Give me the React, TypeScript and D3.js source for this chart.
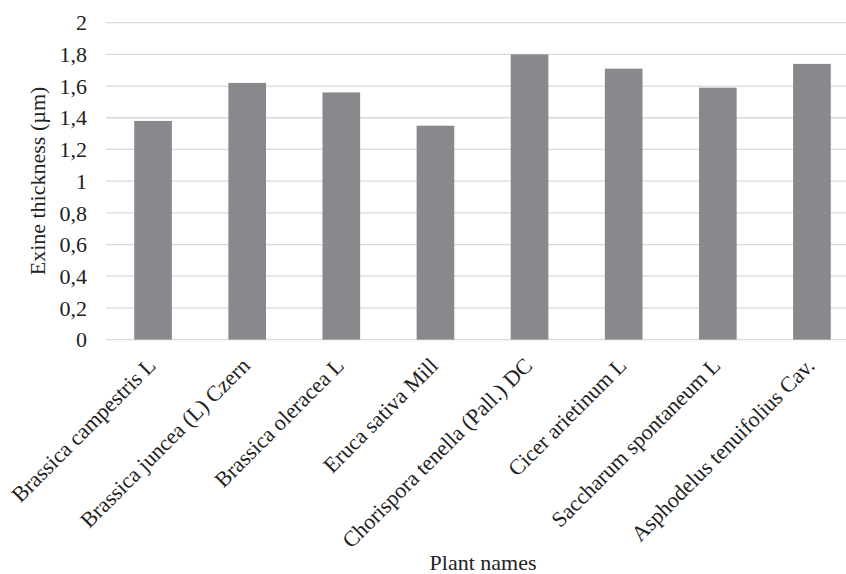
import React from "react";
import * as d3 from "d3";

const categories = [
  "Brassica campestris L",
  "Brassica juncea (L) Czern",
  "Brassica oleracea L",
  "Eruca sativa Mill",
  "Chorispora tenella (Pall.) DC",
  "Cicer arietinum L",
  "Saccharum spontaneum L",
  "Asphodelus tenuifolius Cav.",
];
const values = [1.38, 1.62, 1.56, 1.35, 1.8, 1.71, 1.59, 1.74];
const yTicks = [0, 0.2, 0.4, 0.6, 0.8, 1, 1.2, 1.4, 1.6, 1.8, 2];

const W = 846;
const H = 574;
const left = 106;
const right = 859;
const top = 22.7;
const bottom = 339.6;
const font = "'Liberation Serif', 'Times New Roman', serif";

export default function App() {
  const x = d3.scaleBand<string>().domain(categories).range([left, right]).paddingInner(0.6).paddingOuter(0.3);
  const y = d3.scaleLinear().domain([0, 2]).range([bottom, top]);
  const fmt = (v: number) => String(+v.toFixed(1)).replace(".", ",");
  return (
    <div style={{ position: "absolute", left: 0, top: 0 }}>
      <svg width={W} height={H} style={{ display: "block", background: "#fff" }} fontFamily={font}>
        {yTicks.map((t) => (
          <g key={t}>
            <line x1={left} x2={W} y1={y(t)} y2={y(t)} stroke="#d9d9d9" strokeWidth={1.3} />
            <text x={87} y={y(t)} dy="0.35em" textAnchor="end" fontSize={22} fill="#222">
              {fmt(t)}
            </text>
          </g>
        ))}
        {categories.map((c, i) => (
          <rect key={c} x={x(c)} y={y(values[i])} width={x.bandwidth()} height={y(0) - y(values[i])} fill="#88898d" />
        ))}
        {categories.map((c) => {
          const cx = (x(c) as number) + x.bandwidth() / 2 + 4;
          const cy = 367;
          return (
            <text key={c} x={cx} y={cy} textAnchor="end" fontSize={22} fill="#222" transform={`rotate(-45 ${cx} ${cy})`}>
              {c}
            </text>
          );
        })}
        <text x={483} y={570} textAnchor="middle" fontSize={22} fill="#222">
          Plant names
        </text>
        <text transform={`translate(45 ${181}) rotate(-90)`} textAnchor="middle" fontSize={22} fill="#222">
          Exine thickness (µm)
        </text>
      </svg>
    </div>
  );
}
